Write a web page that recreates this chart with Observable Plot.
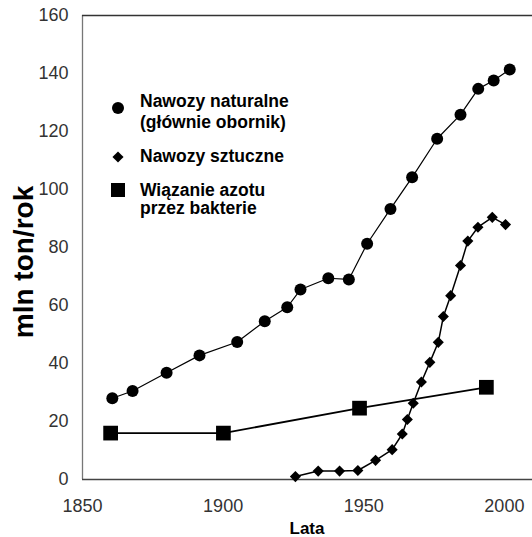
<!DOCTYPE html>
<html><head><meta charset="utf-8">
<script src="https://cdn.jsdelivr.net/npm/d3@7"></script>
<script src="https://cdn.jsdelivr.net/npm/@observablehq/plot@0.6"></script>
<style>body{margin:0;background:#fff} #chart svg{display:block}</style>
</head><body><div id="chart"></div>
<script>
const naturalYears = [1860.6,1867.8,1879.9,1891.6,1905,1914.8,1922.8,1927.5,1937.4,1944.7,1951.2,1959.5,1967.2,1976.1,1984.4,1990.7,1996.2,2001.9];
const naturalValues = [28,30.5,36.8,42.8,47.4,54.6,59.4,65.5,69.4,69,81.3,93.3,104.2,117.5,125.8,134.7,137.6,141.4];
const syntheticYears = [1925.7,1933.8,1941.4,1947.9,1954.2,1960.1,1963.7,1965.5,1967.6,1970.5,1973.5,1976.5,1978.3,1980.9,1984.4,1987,1990.6,1995.7,2000.4];
const syntheticValues = [1,2.9,2.9,3.1,6.6,10.3,15.7,20.7,26.3,33.6,40.4,47.3,56.2,63.4,73.8,82.2,87,90.4,87.9];
const bacteriaYears = [1860,1900.1,1948.5,1993.6];
const bacteriaValues = [16,16,24.6,31.8];
const xTicks = [1850,1900,1950,2000];
const yTicks = [0,20,40,60,80,100,120,140,160];
const legendLabels = [["Nawozy naturalne","(głównie obornik)"],["Nawozy sztuczne"],["Wiązanie azotu","przez bakterie"]];
const yLabel = "mln ton/rok";
const xLabel = "Lata";

const toRows = (xs, ys) => xs.map((x, i) => ({x, y: ys[i]}));
const natural = toRows(naturalYears, naturalValues);
const synthetic = toRows(syntheticYears, syntheticValues);
const bacteria = toRows(bacteriaYears, bacteriaValues);

const font = "'Liberation Sans', Arial, Helvetica, sans-serif";

const chart = Plot.plot({
  width: 532, height: 537,
  marginLeft: 82, marginRight: 0, marginTop: 15, marginBottom: 58,
  style: {fontFamily: font, fontSize: "18px", color: "#333", background: "#fff"},
  x: {domain: [1850, 2010]},
  y: {domain: [0, 160]},
  marks: [
    Plot.axisX({ticks: xTicks, tickSize: 0, tickPadding: 20, tickFormat: d => String(d), label: null, fontSize: 18}),
    Plot.axisY({ticks: yTicks, tickSize: 0, tickPadding: 14, label: null, fontSize: 18}),
    Plot.ruleX([1850], {stroke: "#777", strokeWidth: 1.3}),
    Plot.ruleY([160], {stroke: "#333", strokeWidth: 1.3}),
    Plot.ruleY([0], {stroke: "#444", strokeWidth: 1.3}),
    Plot.line(natural, {x: "x", y: "y", stroke: "#000", strokeWidth: 1.2}),
    Plot.line(synthetic, {x: "x", y: "y", stroke: "#000", strokeWidth: 1.5}),
    Plot.line(bacteria, {x: "x", y: "y", stroke: "#000", strokeWidth: 1.8}),
    Plot.dot(natural, {x: "x", y: "y", r: 6, fill: "#000", stroke: "none"}),
    Plot.dot(synthetic, {x: "x", y: "y", r: 5, symbol: "diamond2", fill: "#000", stroke: "none"}),
    Plot.dot(bacteria, {x: "x", y: "y", r: 8.3, symbol: "square", fill: "#000", stroke: "none"})
  ]
});

const svg = d3.select(chart);
// axis titles
svg.append("text").attr("transform", "translate(33,262) rotate(-90)")
  .attr("text-anchor", "middle").attr("font-family", font).attr("font-weight", "bold")
  .attr("font-size", 28).attr("fill", "#000").text(yLabel);
svg.append("text").attr("x", 307).attr("y", 534)
  .attr("text-anchor", "middle").attr("font-family", font).attr("font-weight", "bold")
  .attr("font-size", 17).attr("fill", "#000").text(xLabel);

// legend
const lg = svg.append("g").attr("font-family", font).attr("font-weight", "bold").attr("font-size", 17.5)
  .attr("fill", "#000").attr("text-anchor", "start");
const symbols = [d3.symbol(d3.symbolCircle, Math.PI*36), d3.symbol(d3.symbolDiamond2, Math.PI*25), d3.symbol(d3.symbolSquare, 14*14)];
const symY = [108, 157, 190];
const textY = [[107, 128], [162], [196, 214]];
legendLabels.forEach((lines, i) => {
  lg.append("path").attr("d", symbols[i]()).attr("transform", `translate(118,${symY[i]})`).attr("fill", "#000");
  lines.forEach((t, j) => lg.append("text").attr("x", 140).attr("y", textY[i][j]).attr("text-anchor", "start").text(t));
});

document.getElementById("chart").append(chart);
</script>
</body></html>
